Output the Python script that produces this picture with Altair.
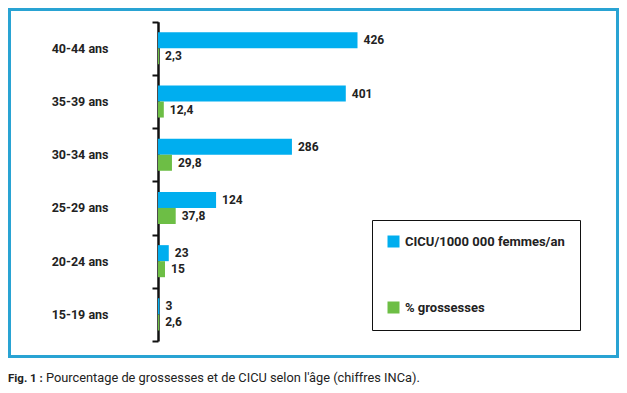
import altair as alt
import pandas as pd

ages = ["40-44 ans", "35-39 ans", "30-34 ans", "25-29 ans", "20-24 ans", "15-19 ans"]
cicu = [426, 401, 286, 124, 23, 3]
grossesses = [2.3, 12.4, 29.8, 37.8, 15, 2.6]
series = ["CICU/1000 000 femmes/an", "% grossesses"]
colors = ["#00AEEF", "#6DBE45"]
caption_bold = "Fig. 1 :"
caption_text = "Pourcentage de grossesses et de CICU selon l'âge (chiffres INCa)."

rows = []
for a, c, g in zip(ages, cicu, grossesses):
    rows.append({"age": a, "serie": series[0], "val": c, "lab": f"{c:g}".replace(".", ",")})
    rows.append({"age": a, "serie": series[1], "val": g, "lab": f"{g:g}".replace(".", ",")})
df = pd.DataFrame(rows)

FONT = "Roboto"
W, H = 611, 377

y = alt.Y("age:N", sort=ages,
          scale=alt.Scale(range=[13.7, 333], paddingInner=0, paddingOuter=0),
          axis=alt.Axis(title=None, orient="left", offset=-150, tickBand="extent",
                        domainColor="#111", domainWidth=2.5, tickColor="#111", tickWidth=2,
                        tickSize=6, labelPadding=44, labelFont=FONT, labelFontSize=12.5,
                        labelFontWeight="bold", labelColor="#222"))
yoff = alt.YOffset("serie:N", sort=series,
                   scale=alt.Scale(paddingInner=0, paddingOuter=0.66))
x = alt.X("val:Q", scale=alt.Scale(domain=[0, 426], range=[150, 349.5]), axis=None)

frame = alt.Chart(pd.DataFrame({"f": [1]})).mark_rect(
    fillOpacity=0, stroke="#29A3D3", strokeWidth=3).encode(
    x=alt.value(1.5), x2=alt.value(609.5), y=alt.value(1.5), y2=alt.value(348.5))

base = alt.Chart(df)
bars = base.mark_bar().encode(
    y=y, yOffset=yoff, x=x,
    color=alt.Color("serie:N", sort=series,
                    scale=alt.Scale(domain=series, range=colors),
                    legend=alt.Legend(title=None, orient="none", legendX=364, legendY=212,
                                      padding=15, strokeColor="#111",
                                      symbolType="square", symbolSize=144, symbolStrokeWidth=0,
                                      labelOffset=5, rowPadding=52, labelFont=FONT,
                                      labelFontSize=13, labelFontWeight="bold",
                                      labelColor="#222", direction="vertical")),
)
labels = base.mark_text(align="left", baseline="middle", dx=6, font=FONT, fontSize=12,
                        fontWeight="bold", color="#222").encode(
    y=alt.Y("age:N", sort=ages), yOffset=alt.YOffset("serie:N", sort=series), x=x,
    text="lab:N")

cap1 = alt.Chart(pd.DataFrame({"t": [caption_bold]})).mark_text(
    align="left", baseline="alphabetic", font=FONT, fontSize=11.5, fontWeight="bold",
    color="#222").encode(x=alt.value(0), y=alt.value(373.5), text="t:N")
cap2 = alt.Chart(pd.DataFrame({"t": [caption_text]})).mark_text(
    align="left", baseline="alphabetic", font=FONT, fontSize=12.8, fontWeight="normal",
    color="#222").encode(x=alt.value(38), y=alt.value(373.5), text="t:N")

chart = alt.layer(frame, bars, labels, cap1, cap2).properties(
    width=W, height=H, padding=0,
    autosize=alt.AutoSizeParams(type="none")
).configure_view(strokeWidth=0)

chart.save("out.html", embed_options={"renderer": "svg", "actions": False})
